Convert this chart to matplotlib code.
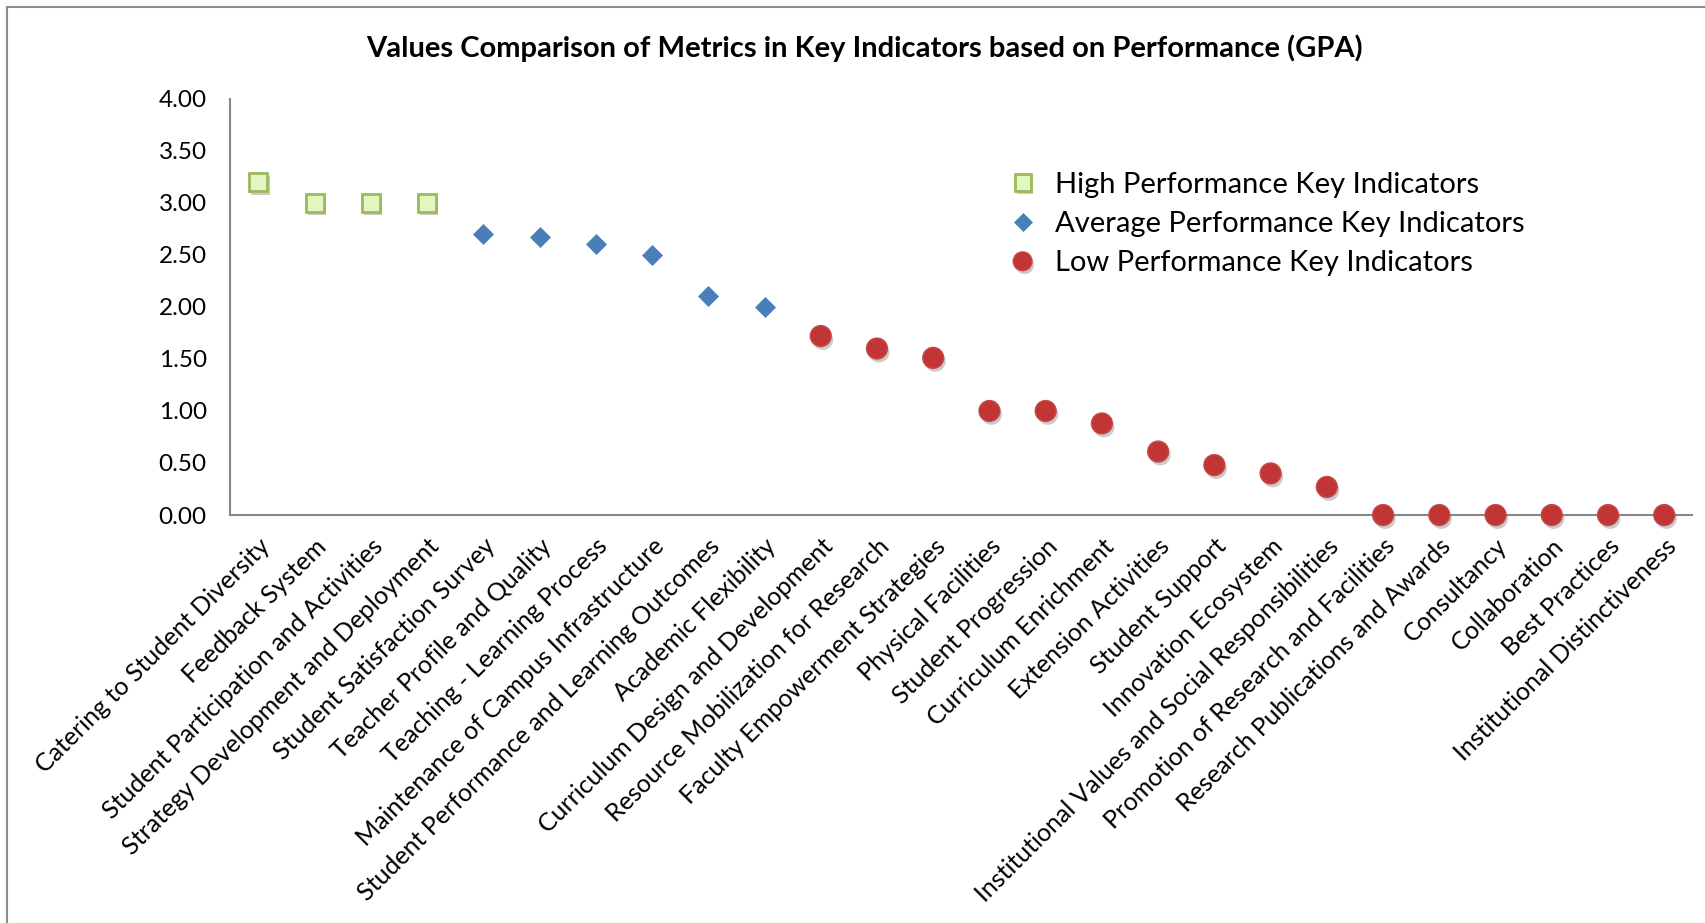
import matplotlib
matplotlib.use("Agg")
import matplotlib.pyplot as plt
import matplotlib.patheffects as pe
from matplotlib.patches import Rectangle

# --- data ---
categories = [
    "Catering to Student Diversity",
    "Feedback System",
    "Student Participation and Activities",
    "Strategy Development and Deployment",
    "Student Satisfaction Survey",
    "Teacher Profile and Quality",
    "Teaching - Learning Process",
    "Maintenance of Campus Infrastructure",
    "Student Performance and Learning Outcomes",
    "Academic Flexibility",
    "Curriculum Design and Development",
    "Resource Mobilization for Research",
    "Faculty Empowerment Strategies",
    "Physical Facilities",
    "Student Progression",
    "Curriculum Enrichment",
    "Extension Activities",
    "Student Support",
    "Innovation Ecosystem",
    "Institutional Values and Social Responsibilities",
    "Promotion of Research and Facilities",
    "Research Publications and Awards",
    "Consultancy",
    "Collaboration",
    "Best Practices",
    "Institutional Distinctiveness",
]
high_idx = [0, 1, 2, 3]
high_vals = [3.20, 3.00, 3.00, 3.00]
avg_idx = [4, 5, 6, 7, 8, 9]
avg_vals = [2.70, 2.67, 2.60, 2.50, 2.10, 2.00]
low_idx = list(range(10, 26))
low_vals = [1.72, 1.60, 1.51, 1.00, 1.00, 0.88, 0.61, 0.48, 0.40, 0.27,
            0.00, 0.00, 0.00, 0.00, 0.00, 0.00]
yticks = [0.0, 0.5, 1.0, 1.5, 2.0, 2.5, 3.0, 3.5, 4.0]

plt.rcParams["font.family"] = ["Lato", "DejaVu Sans"]

fig = plt.figure(figsize=(17.06, 9.23), dpi=100)
ax = fig.add_axes([0.135, 0.442, 0.857, 0.451])

shadow = [pe.SimplePatchShadow(offset=(1.5, -2.5), alpha=0.3, shadow_rgbFace="#555555"), pe.Normal()]

ax.plot(high_idx, high_vals, ls="none", marker="s", ms=13, mfc="#e4f5c4",
        mec="#9bbb59", mew=2, path_effects=shadow,
        label="High Performance Key Indicators", zorder=3)
ax.plot(avg_idx, avg_vals, ls="none", marker="D", ms=10.5, mfc="#4a7ebb",
        mec="#4a7ebb", mew=0.5, label="Average Performance Key Indicators", zorder=3)
ax.plot(low_idx, low_vals, ls="none", marker="o", ms=15, mfc="#c23535",
        mec="#c64848", mew=1, path_effects=shadow,
        label="Low Performance Key Indicators", zorder=3, clip_on=False)

ax.set_xlim(-0.5, len(categories) - 0.5)
ax.set_ylim(0, 4)
ax.set_yticks(yticks)
ax.set_yticklabels([f"{v:.2f}" for v in yticks], fontsize=17.5)
ax.set_xticks(range(len(categories)))
ax.set_xticklabels(categories, rotation=45, ha="right", rotation_mode="anchor",
                   fontsize=18)
ax.tick_params(axis="both", length=0)
ax.tick_params(axis="x", pad=14)
ax.tick_params(axis="y", pad=17)

for s in ["top", "right"]:
    ax.spines[s].set_visible(False)
for s in ["left", "bottom"]:
    ax.spines[s].set_color("#888888")
    ax.spines[s].set_linewidth(1.5)

fig.text(0.507, 0.948, "Values Comparison of Metrics in Key Indicators based on Performance (GPA)",
         ha="center", va="center", fontsize=21, fontweight="bold")

ax.legend(loc="upper left", bbox_to_anchor=(0.512, 0.888), frameon=False,
          fontsize=21, handletextpad=0.5, labelspacing=0.46, markerscale=0.9,
          handlelength=1.2)

# outer chart border
fig.patches.append(Rectangle((7 / 1706, -0.05), 1.2, 1.0 - 7 / 923 + 0.05,
                             transform=fig.transFigure, fill=False,
                             edgecolor="#8c8c8c", linewidth=1.5))

fig.savefig("out.png", dpi=100)
